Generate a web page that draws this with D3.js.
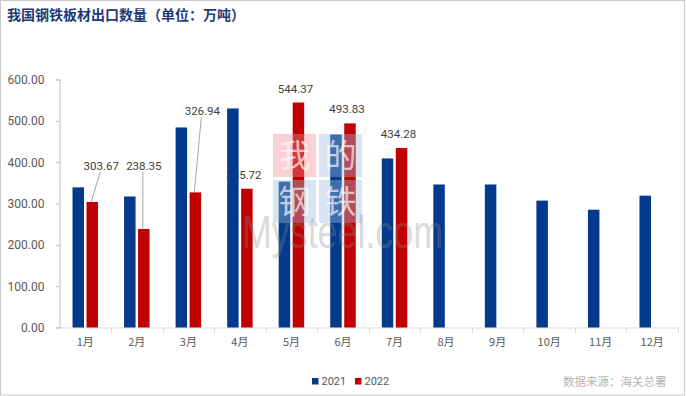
<!DOCTYPE html>
<html>
<head>
<meta charset="utf-8">
<script src="https://cdn.jsdelivr.net/npm/d3@7"></script>
<style>
  html, body { margin: 0; padding: 0; background: #fff; }
  svg { display: block; }
</style>
</head>
<body>
<figure id="chart" style="margin:0"></figure>
<script>
// data
const months = ['1月', '2月', '3月', '4月', '5月', '6月', '7月', '8月', '9月', '10月', '11月', '12月'];
const series = ['2021', '2022'];
const values2021 = [339, 317, 484, 530, 353, 467, 409, 346, 346, 307, 285, 319];
const values2022 = [303.67, 238.35, 326.94, 335.72, 544.37, 493.83, 434.28];
const yTicks = [0, 100, 200, 300, 400, 500, 600];

// label nudges for the 2022 labels that were dragged away from the bar (dx, dy from bar top)
const labelNudge = {0: [9, -36], 1: [0, -63], 2: [7, -81]};

const W = 686, H = 396;
const colors = {'2021': '#033a8c', '2022': '#c00000'};

const svg = d3.select('#chart').append('svg')
    .attr('width', W)
    .attr('height', H);

// outer frame
svg.append('rect')
    .attr('x', 0.5).attr('y', 0.5)
    .attr('width', W - 2).attr('height', H - 1.5)
    .attr('fill', '#fff')
    .attr('stroke', '#c8c8c8');

// title
svg.append('text')
    .attr('x', 7).attr('y', 20)
    .attr('font-family', '"Noto Sans CJK SC", sans-serif')
    .attr('font-weight', 'bold')
    .attr('font-size', 14)
    .attr('fill', '#1f3a78')
    .text('我国钢铁板材出口数量（单位：万吨）');

const x = d3.scaleBand().domain(months).range([59.5, 678]);
const x1 = d3.scaleBand().domain(series).range([-12.75, 12.75]).paddingInner(0.179);
const y = d3.scaleLinear().domain([0, 600]).range([327.5, 79.5]);

// y axis
const yAxis = svg.append('g')
    .attr('transform', 'translate(59.5,0)')
    .call(d3.axisLeft(y).tickValues(yTicks).tickSize(4).tickPadding(11).tickFormat(d3.format('.2f')));
yAxis.select('.domain').attr('stroke', '#bfbfbf');
yAxis.selectAll('.tick line').attr('stroke', '#bfbfbf');
yAxis.selectAll('text')
    .attr('font-family', 'Roboto, sans-serif')
    .attr('font-size', 12)
    .attr('fill', '#595959');

// x axis
const xAxis = svg.append('g')
    .attr('transform', 'translate(0,327.5)')
    .call(d3.axisBottom(x).tickSize(0).tickPadding(11));
xAxis.select('.domain').attr('stroke', '#d9d9d9');
xAxis.selectAll('text')
    .attr('font-family', '"Noto Sans CJK SC", sans-serif')
    .attr('font-size', 11)
    .attr('fill', '#595959');
// tick marks sit on the category boundaries
svg.append('g')
    .selectAll('line')
    .data(months)
    .enter()
    .append('line')
    .attr('x1', d => Math.round(x(d) + x.bandwidth()) + 0.5)
    .attr('x2', d => Math.round(x(d) + x.bandwidth()) + 0.5)
    .attr('y1', 327.5).attr('y2', 332.5)
    .attr('stroke', '#d9d9d9');

const center = m => x(m) + x.bandwidth() / 2;

// 2022 bars
svg.append('g')
    .selectAll('rect')
    .data(values2022)
    .enter()
    .append('rect')
    .attr('x', (d, i) => center(months[i]) + x1('2022'))
    .attr('y', d => y(d))
    .attr('width', x1.bandwidth())
    .attr('height', d => y(0) - y(d))
    .attr('fill', colors['2022']);

// 2022 labels and leader lines
const labels = svg.append('g');
values2022.forEach((v, i) => {
  const bx = center(months[i]) + x1('2022') + x1.bandwidth() / 2;
  const by = y(v);
  const nudge = labelNudge[i];
  let lx, ly;
  if (nudge) {
    lx = bx + nudge[0];
    ly = by + nudge[1];
    labels.append('line')
        .attr('x1', lx - 1).attr('y1', ly + 6)
        .attr('x2', bx - 1).attr('y2', by - 0.5)
        .attr('stroke', '#a6a6a6')
        .attr('stroke-width', 1);
  } else {
    lx = bx - 3;
    ly = by - 14;
  }
  labels.append('text')
      .attr('x', lx).attr('y', ly)
      .attr('dy', '0.35em')
      .attr('text-anchor', 'middle')
      .attr('font-family', 'Roboto, sans-serif')
      .attr('font-size', 11.5)
      .attr('fill', '#404040')
      .text(d3.format('.2f')(v));
});

// 2021 bars
svg.append('g')
    .selectAll('rect')
    .data(values2021)
    .enter()
    .append('rect')
    .attr('x', (d, i) => center(months[i]) + x1('2021'))
    .attr('y', d => y(d))
    .attr('width', x1.bandwidth())
    .attr('height', d => y(0) - y(d))
    .attr('fill', colors['2021']);

// watermark
const wm = svg.append('g').attr('pointer-events', 'none');
const wmCells = [
  {ch: '我', cx: 273, cy: 134, fill: '#f08a90'},
  {ch: '的', cx: 319, cy: 134, fill: '#9dbbe0'},
  {ch: '钢', cx: 273, cy: 180, fill: '#9dbbe0'},
  {ch: '铁', cx: 319, cy: 180, fill: '#9dbbe0'},
];
wmCells.forEach(c => {
  wm.append('rect')
      .attr('x', c.cx).attr('y', c.cy)
      .attr('width', 43).attr('height', 43)
      .attr('fill', c.fill)
      .attr('opacity', 0.4);
  wm.append('text')
      .attr('x', c.cx + 21.5).attr('y', c.cy + 33)
      .attr('text-anchor', 'middle')
      .attr('font-family', '"Noto Sans CJK SC", serif')
      .attr('font-size', 32)
      .attr('fill', '#fff')
      .attr('opacity', 0.65)
      .text(c.ch);
});
wm.append('text')
    .attr('x', 242).attr('y', 248)
    .attr('textLength', 201)
    .attr('lengthAdjust', 'spacingAndGlyphs')
    .attr('font-family', '"Liberation Sans", Arial, sans-serif')
    .attr('font-size', 46)
    .attr('fill', '#8c8c8c')
    .attr('opacity', 0.3)
    .text('Mysteel.com');

// legend
const legend = svg.append('g').attr('transform', 'translate(312,378)');
series.forEach((s, i) => {
  const g = legend.append('g').attr('transform', `translate(${i * 43},0)`);
  g.append('rect')
      .attr('width', 6.5).attr('height', 6.5)
      .attr('fill', colors[s]);
  g.append('text')
      .attr('x', 9.5).attr('y', 3.5)
      .attr('dy', '0.35em')
      .attr('font-family', 'Roboto, sans-serif')
      .attr('font-size', 11)
      .attr('fill', '#595959')
      .text(s);
});

// source note
svg.append('text')
    .attr('x', 563).attr('y', 382)
    .attr('dy', '0.35em')
    .attr('font-family', '"Noto Sans CJK SC", sans-serif')
    .attr('font-size', 11.5)
    .attr('fill', '#b4b4b4')
    .text('数据来源：海关总署');
</script>
</body>
</html>
